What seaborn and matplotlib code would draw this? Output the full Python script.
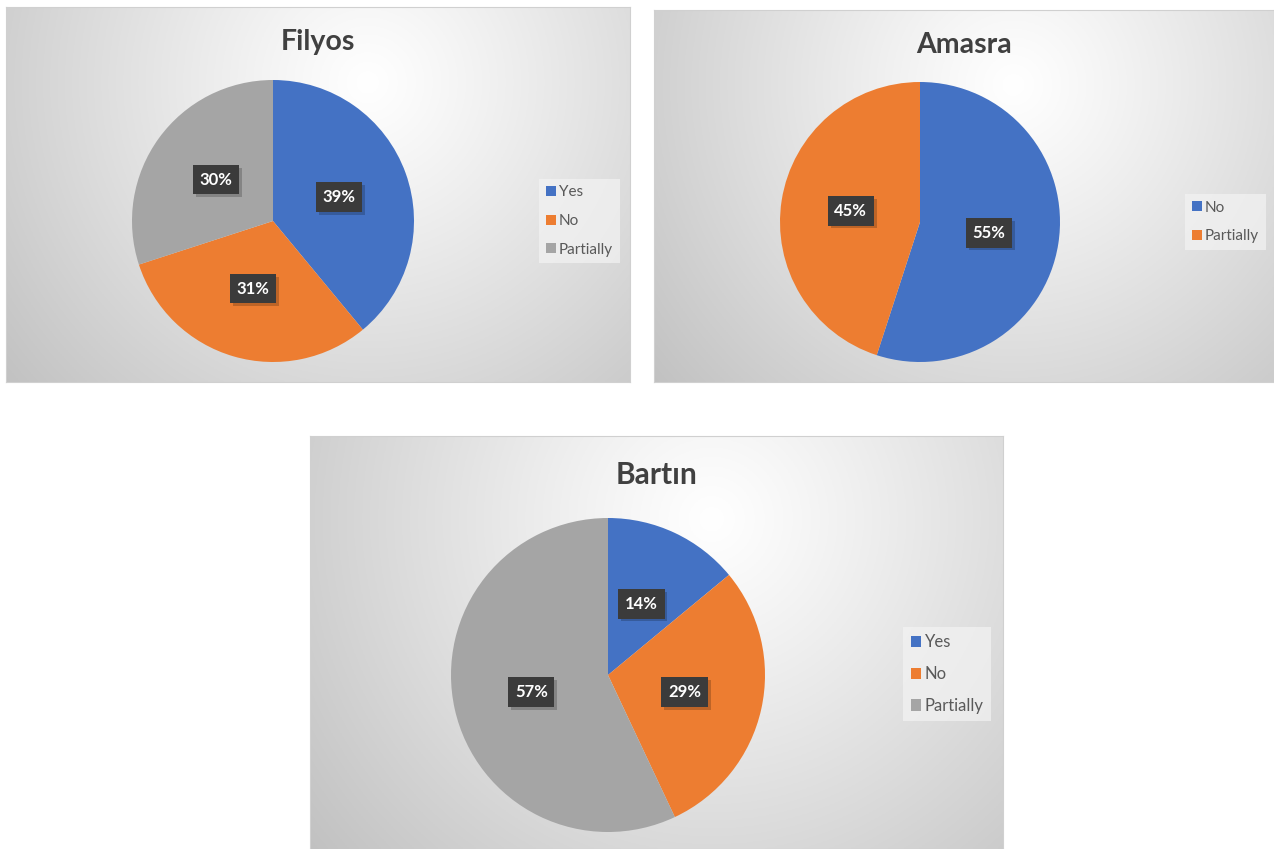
import numpy as np
import seaborn as sns
import matplotlib.pyplot as plt
import matplotlib.patheffects as pe

# data
titles = ['Filyos', 'Amasra', 'Bartın']
filyos_labels = ['Yes', 'No', 'Partially']
filyos_vals = [39, 31, 30]
amasra_labels = ['No', 'Partially']
amasra_vals = [55, 45]
bartin_labels = ['Yes', 'No', 'Partially']
bartin_vals = [14, 29, 57]

sns.set_style('white')
plt.rcParams['font.family'] = ['Lato', 'DejaVu Sans']

pal = sns.color_palette(['#4472C4', '#ED7D31', '#A5A5A5'])

W, H = 1274, 849
fig = plt.figure(figsize=(W / 100, H / 100), dpi=100)
fig.patch.set_facecolor('white')


def px(x0, y0, x1, y1):
    # pixel box (top-left origin) -> figure fraction rect
    return [x0 / W, 1 - y1 / H, (x1 - x0) / W, (y1 - y0) / H]


def background(rect_px):
    ax = fig.add_axes(px(*rect_px))
    w = rect_px[2] - rect_px[0]
    h = rect_px[3] - rect_px[1]
    xx, yy = np.meshgrid(np.linspace(0, 1, 300), np.linspace(0, 1, 200))
    d = np.sqrt(((xx - 0.58) * w / h) ** 2 + (yy - 0.2) ** 2)
    d = np.clip(d / 1.25, 0, 1)
    g = 1.0 - 0.24 * d ** 1.1
    img = np.dstack([g, g, g])
    ax.imshow(img, aspect='auto', extent=[0, 1, 1, 0])
    ax.set_xticks([])
    ax.set_yticks([])
    for s in ax.spines.values():
        s.set_color('#d0d0d0')
        s.set_linewidth(0.8)
    return ax


def pie_panel(bg_px, pie_px, title, title_xy, title_fs, labels, vals,
              leg_xy, leg_fs, lab_fs, leg_space):
    background(bg_px)
    ax = fig.add_axes(px(*pie_px))
    ax.set_facecolor('none')
    wedges, _ = ax.pie(vals, colors=pal[:len(vals)], startangle=90,
                       counterclock=False, radius=1,
                       wedgeprops={'linewidth': 0})
    ax.set_xlim(-1.0, 1.0)
    ax.set_ylim(-1.0, 1.0)
    ax.set_aspect('equal')
    ax.axis('off')
    # data labels in dark boxes
    total = sum(vals)
    start = 90.0
    for v in vals:
        ang = np.deg2rad(start - v / total * 360 / 2)
        start -= v / total * 360
        t = ax.text(0.5 * np.cos(ang), 0.5 * np.sin(ang), f'{round(v / total * 100)}%',
                    ha='center', va='center', color='white', fontsize=lab_fs,
                    fontweight='bold',
                    bbox=dict(boxstyle='square,pad=0.4', fc='#3b3b3b', ec='none'))
        t.get_bbox_patch().set_path_effects(
            [pe.SimplePatchShadow(offset=(2, -2), shadow_rgbFace='black', alpha=0.2),
             pe.Normal()])
    fig.text(title_xy[0] / W, 1 - title_xy[1] / H, title, ha='center', va='center',
             fontsize=title_fs, fontweight='bold', color='#404040')
    leg = fig.legend(wedges, labels, loc='center left',
                     bbox_to_anchor=(leg_xy[0] / W, 1 - leg_xy[1] / H),
                     fontsize=leg_fs, frameon=True, fancybox=False,
                     handlelength=0.65, handleheight=0.65, handletextpad=0.2,
                     labelspacing=leg_space, borderpad=0.45, borderaxespad=0)
    leg.get_frame().set_facecolor('#f3f3f3')
    leg.get_frame().set_alpha(0.7)
    leg.get_frame().set_edgecolor('none')
    for txt in leg.get_texts():
        txt.set_color('#595959')


pie_panel((6, 7, 630, 382), (132, 80, 414, 362), titles[0], (318, 42), 20.5,
          filyos_labels, filyos_vals, (539, 221), 11, 12, 0.95)
pie_panel((654, 10, 1274, 382), (780, 82, 1060, 362), titles[1], (964, 45), 20.5,
          amasra_labels, amasra_vals, (1185, 222), 11, 12, 0.95)
pie_panel((310, 436, 1003, 849), (451, 518, 765, 832), titles[2], (656, 475), 21.5,
          bartin_labels, bartin_vals, (903, 674), 12, 12, 0.95)

fig.savefig('out.png', dpi=100)
